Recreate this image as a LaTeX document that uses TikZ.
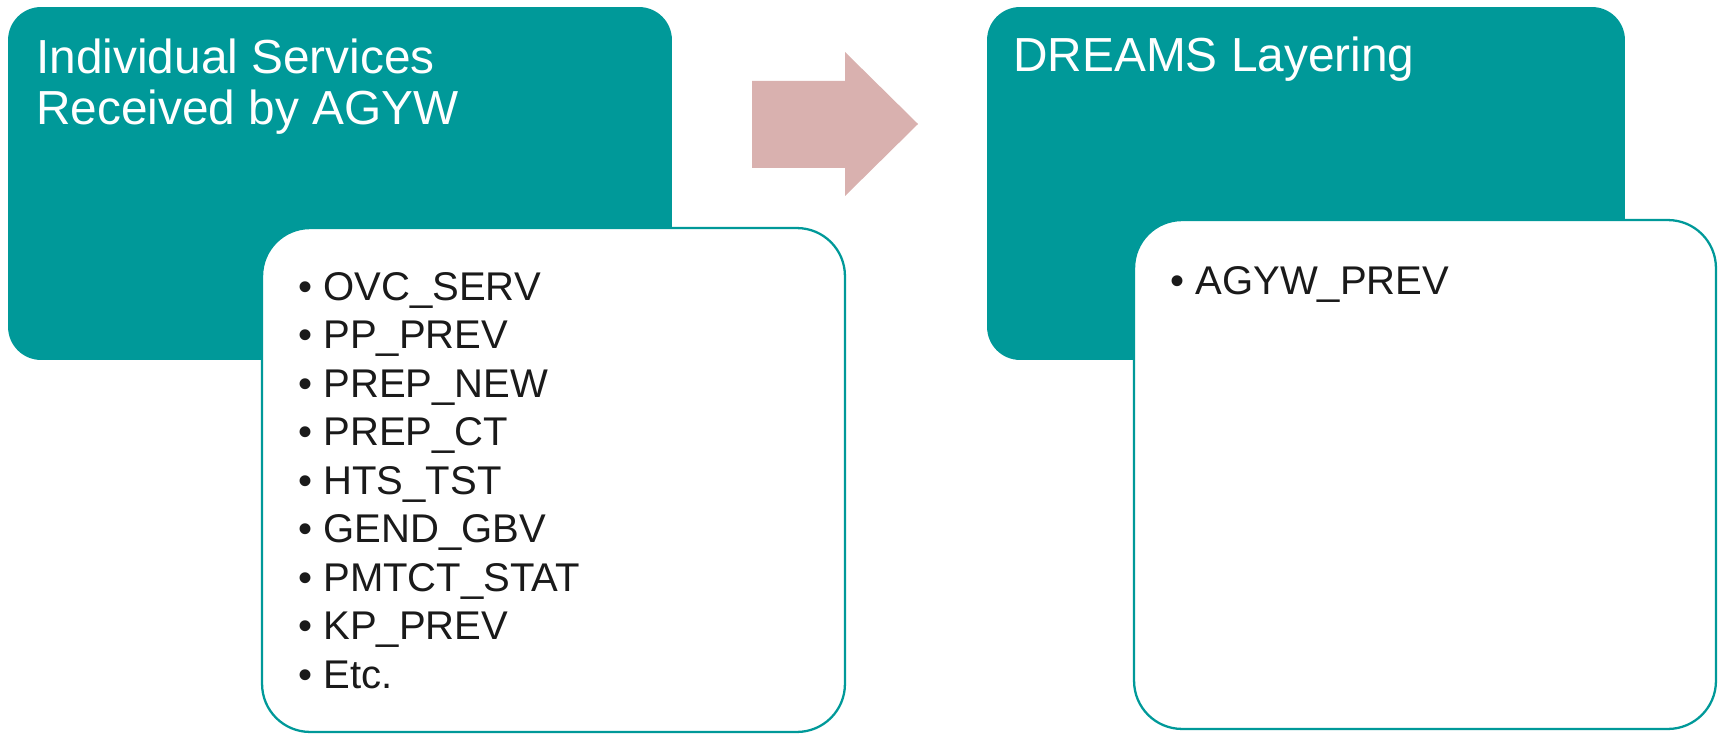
\documentclass[tikz,border=0pt]{standalone}
\usepackage{fontspec}
\setmainfont{Liberation Sans}
\usepackage{xcolor}
\definecolor{dreamteal}{RGB}{0,153,153}
\definecolor{arrowpink}{RGB}{217,177,175}
\definecolor{listgray}{RGB}{26,26,26}
\newcommand{\bul}{\textbullet\hspace{6.3pt}}

\begin{document}
\begin{tikzpicture}[x=0.02cm, y=-0.02cm,
    headbox/.style={fill=dreamteal, rounded corners=0.66cm, inner sep=0pt},
    listbox/.style={draw=dreamteal, line width=1.3pt, fill=white, rounded corners=0.96cm, inner sep=0pt},
    headtext/.style={anchor=north west, inner sep=0pt, align=left, text=white,
        font=\fontsize{27.2}{28.9}\selectfont},
    listtext/.style={anchor=north west, inner sep=0pt, align=left, text=listgray,
        font=\fontsize{22.8}{27.6}\selectfont}]

        \useasboundingbox (0,0) rectangle (1719,733);

        % Teal header boxes
        \node[headbox, minimum width=13.28cm, minimum height=7.06cm] (svcbox) at (340,183.5) {};
        \node[headbox, minimum width=12.76cm, minimum height=7.06cm] (dreamsbox) at (1306,183.5) {};

        % Titles
        \node[headtext] (svctitle) at (36,39) {Individual Services\\Received by AGYW};
        \node[headtext] (dreamstitle) at (1013,37) {DREAMS Layering};

        % White list boxes
        \node[listbox, minimum width=11.66cm, minimum height=10.08cm] (svclist) at (553.5,480) {};
        \node[listbox, minimum width=11.64cm, minimum height=10.18cm] (dreamslist) at (1425,474.5) {};

        % Indicators
        \node[listtext] (svcitems) at (298,272) {\bul OVC\_SERV\\\bul PP\_PREV\\\bul PREP\_NEW\\
            \bul PREP\_CT\\\bul HTS\_TST\\\bul GEND\_GBV\\\bul PMTCT\_STAT\\\bul KP\_PREV\\\bul Etc.};
        \node[listtext] (dreamsitems) at (1170,266) {\bul AGYW\_PREV};

        % Arrow between the two
        \fill[arrowpink] (752,81) -- (845,81) -- (845,52) -- (918,124) -- (845,196) -- (845,168) -- (752,168) -- cycle;

    \end{tikzpicture}
\end{document}
